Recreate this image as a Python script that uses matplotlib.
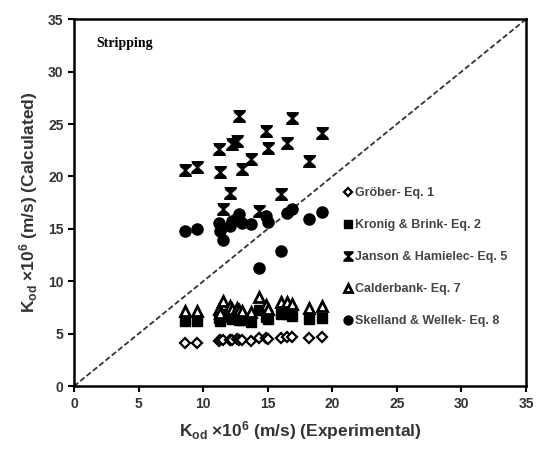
import numpy as np
import matplotlib
matplotlib.use('Agg')
import matplotlib.pyplot as plt

# experimental Kod x10^6 (m/s)
k_exp = [8.6, 9.5, 11.2, 11.3, 11.5, 12.1, 12.2, 12.6, 12.8, 13.0,
         13.7, 14.3, 14.9, 15.0, 16.0, 16.5, 16.9, 18.2, 19.2]

# calculated values per correlation
grober = [4.1, 4.1, 4.3, 4.4, 4.4, 4.4, 4.4, 4.5, 4.4, 4.4,
          4.3, 4.6, 4.6, 4.5, 4.6, 4.7, 4.7, 4.6, 4.7]
kronig = [6.2, 6.2, 6.5, 6.2, 6.9, 6.6, 6.4, 6.5, 6.3, 6.3,
          6.1, 7.3, 6.6, 6.4, 6.9, 6.9, 6.7, 6.4, 6.5]
janson = [20.6, 20.9, 22.6, 20.4, 16.9, 18.4, 23.1, 23.4, 25.8, 20.7,
          21.7, 16.7, 24.3, 22.7, 18.3, 23.2, 25.6, 21.5, 24.1]
calderbank = [7.2, 7.2, 7.4, 7.0, 8.1, 7.6, 7.4, 7.5, 7.3, 7.2,
              7.1, 8.5, 7.7, 7.4, 8.0, 8.0, 7.8, 7.5, 7.6]
skelland = [14.8, 15.0, 15.6, 14.8, 13.9, 15.3, 15.8, 16.0, 16.4, 15.6,
            15.5, 11.3, 16.2, 15.7, 12.9, 16.5, 16.9, 15.9, 16.6]

labels = ['Gröber- Eq. 1', 'Kronig & Brink- Eq. 2', 'Janson & Hamielec- Eq. 5',
          'Calderbank- Eq. 7', 'Skelland & Wellek- Eq. 8']

plt.rcParams['font.family'] = 'Liberation Sans'
plt.rcParams['font.weight'] = 'bold'
plt.rcParams['axes.labelweight'] = 'bold'
plt.rcParams['mathtext.fontset'] = 'custom'
plt.rcParams['mathtext.rm'] = 'Liberation Sans:bold'
plt.rcParams['mathtext.it'] = 'Liberation Sans:bold'
plt.rcParams['mathtext.bf'] = 'Liberation Sans:bold'

# hourglass marker like the excel star
hourglass = [(-1, 1), (1, 1), (0.9, 0.7), (0.22, 0.15), (0.22, -0.15), (0.9, -0.7),
             (1, -1), (-1, -1), (-0.9, -0.7), (-0.22, -0.15), (-0.22, 0.15), (-0.9, 0.7)]

fig = plt.figure(figsize=(5.44, 4.57), dpi=100)
ax = fig.add_axes([0.136, 0.155, 0.831, 0.803])

ax.plot([0, 35], [0, 35], color='#333333', ls=(0, (3, 1.5)), lw=1.3, zorder=1)

ax.plot(k_exp, kronig, 's', color='black', ms=6.5, label=labels[1], zorder=2)
ax.plot(k_exp, calderbank, '^', mfc='white', mec='black', mew=2, ms=7, label=labels[3], zorder=3)
ax.plot(k_exp, grober, 'D', mfc='white', mec='black', mew=1.6, ms=5.5, label=labels[0], zorder=3)
ax.plot(k_exp, janson, marker=hourglass, ls='none', color='black', mec='black', mew=0.8, ms=8.5,
        label=labels[2], zorder=3)
ax.plot(k_exp, skelland, 'o', color='black', ms=8, label=labels[4], zorder=4)

ax.set_xlim(0, 35)
ax.set_ylim(0, 35)
ax.set_xticks(np.arange(0, 36, 5))
ax.set_yticks(np.arange(0, 36, 5))
ax.tick_params(direction='out', length=4, width=1.5, labelsize=10, labelcolor='#333333')
for s in ax.spines.values():
    s.set_linewidth(1.8)

ax.set_xlabel(r'K$_{od}$ ×10$^{6}$ (m/s) (Experimental)', fontsize=12.5, color='#333333', labelpad=6)
ax.set_ylabel(r'K$_{od}$ ×10$^{6}$ (m/s) (Calculated)', fontsize=12.5, color='#333333', labelpad=6)

ax.text(0.05, 0.935, 'Stripping', transform=ax.transAxes, fontsize=10,
        family='Liberation Serif', weight='bold', va='center')

handles, labs = ax.get_legend_handles_labels()
order = [labs.index(l) for l in labels]
leg = ax.legend([handles[i] for i in order], labels, loc='upper left',
                bbox_to_anchor=(0.585, 0.56), frameon=False, fontsize=9,
                handlelength=0.6, handletextpad=0.2, labelspacing=1.6,
                markerscale=0.8, borderpad=0)
for t in leg.get_texts():
    t.set_color('#444444')

fig.savefig('out.png', dpi=100)
